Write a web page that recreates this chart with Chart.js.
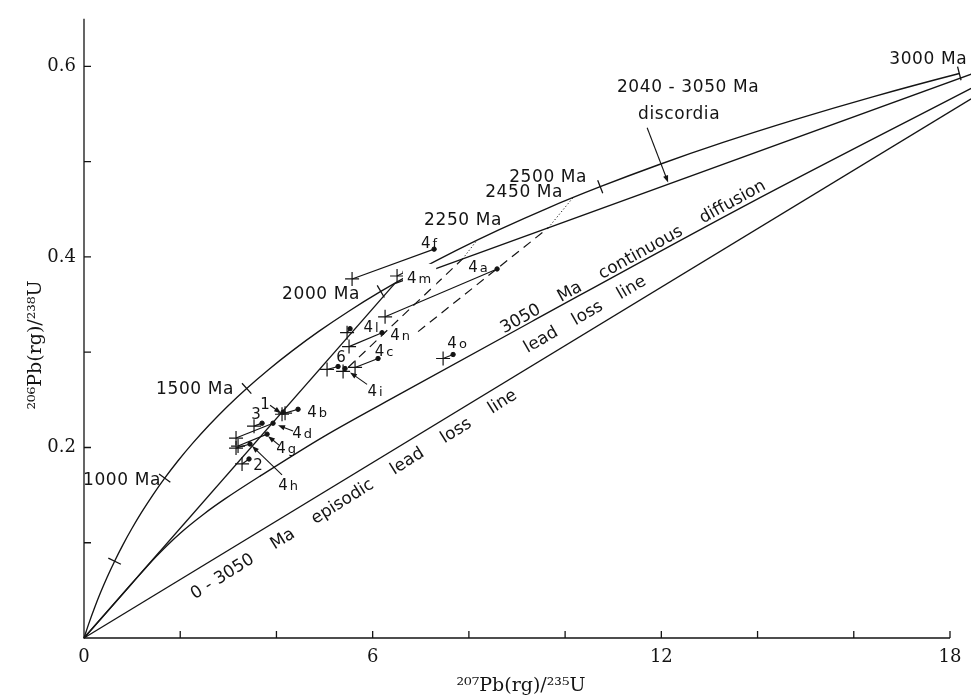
<!DOCTYPE html>
<html>
<head>
<meta charset="utf-8">
<script src="https://cdn.jsdelivr.net/npm/chart.js@4.4.1/dist/chart.umd.min.js"></script>
<style>
  html, body { margin: 0; padding: 0; background: #ffffff; }
  #wrap { width: 971px; height: 698px; }
</style>
</head>
<body>
<div id="wrap"><canvas id="c" width="971" height="698"></canvas></div>
<script>
// ---------------- DATA ----------------
// Concordia curve: age (Ma), 207Pb/235U, 206Pb/238U
const CONCORDIA_AGE_MA = [0,100,200,300,400,500,600,700,800,900,1000,1100,1200,1300,1400,1500,1600,1700,1800,1900,2000,2100,2200,2300,2400,2500,2600,2700,2800,2900,3000,3100];
const CONCORDIA_X = [0,0.1035,0.2177,0.3437,0.4828,0.6363,0.8056,0.9925,1.1987,1.4264,1.6774,1.9546,2.2604,2.5978,2.9701,3.3810,3.8345,4.3348,4.8870,5.4962,6.1686,6.9106,7.7293,8.6328,9.6297,10.7299,11.9439,13.2836,14.7619,16.3933,18.1934,20.1796];
const CONCORDIA_Y = [0,0.01563,0.03151,0.04764,0.06402,0.08065,0.09754,0.1147,0.1321,0.1498,0.1678,0.1861,0.2046,0.2234,0.2426,0.2620,0.2817,0.3017,0.3221,0.3428,0.3638,0.3851,0.4067,0.4287,0.4511,0.4737,0.4968,0.5202,0.5439,0.5681,0.5926,0.6175];
const AGE_TICKS_MA = [500,1000,1500,2000,2500,3000];

// 2040 - 3050 Ma discordia
const DISCORDIA_X = [6.457, 19.162];
const DISCORDIA_Y = [0.372, 0.605];
// chord from origin to the 2040 Ma point
const CHORD2040_X = [0, 6.457];
const CHORD2040_Y = [0, 0.372];
// 3050 Ma continuous diffusion lead loss line
const DIFFUSION_X = [0, 1.0, 1.5, 2.0, 2.5, 2.93, 3.66, 5.0, 6.6, 9.3, 13.78, 18.44];
const DIFFUSION_Y = [0, 0.0575, 0.0855, 0.110, 0.1305, 0.146, 0.170, 0.212, 0.257, 0.332, 0.455, 0.577];
// 0 - 3050 Ma episodic lead loss line
const EPISODIC_X = [0, 18.44];
const EPISODIC_Y = [0, 0.566];
// dashed trends, dotted continuation to the concordia (2250 Ma and 2450 Ma)
const DASH1_X = [5.489, 7.87];   const DASH1_Y = [0.284, 0.398];
const DOT1_X  = [7.87, 8.170];   const DOT1_Y  = [0.398, 0.4177];
const DASH2_X = [6.944, 9.65];   const DASH2_Y = [0.3216, 0.4306];
const DOT2_X  = [9.65, 10.166];  const DOT2_Y  = [0.4306, 0.4624];

// Samples: corrected point (cross) and measured point (dot)
const SAMPLE_NAMES   = ['4f','4m','4a','4l','4n','6','4i','4c','4o','1','4b','3','4d','4g','4h','2'];
const SAMPLE_CROSS_X = [5.572,6.507,6.258,5.468,5.509,5.052,5.385,5.634,7.464,4.116,4.179,3.534,3.160,3.202,3.160,3.285];
const SAMPLE_CROSS_Y = [0.3769,0.3800,0.3372,0.3205,0.3059,0.2819,0.2798,0.2840,0.2934,0.2349,0.2360,0.2224,0.2099,0.2015,0.1994,0.1827];
const SAMPLE_DOT_X   = [7.277,6.674,8.586,5.530,6.195,5.281,5.426,6.112,7.672,4.137,4.449,3.701,3.929,3.805,3.451,3.430];
const SAMPLE_DOT_Y   = [0.4082,0.3842,0.3874,0.3247,0.3205,0.2850,0.2829,0.2934,0.2976,0.2370,0.2401,0.2255,0.2255,0.2140,0.2036,0.1879];

// Axis ticks
const X_MIN = 0, X_MAX = 18, Y_MIN = 0, Y_MAX = 0.65;
const X_TICKS = [2,4,6,8,10,12,14,16,18];
const X_TICK_LABELS = [0,6,12,18];
const Y_TICKS = [0.1,0.2,0.3,0.4,0.5,0.6];
const Y_TICK_LABELS = [0.2,0.4,0.6];

// ---------------- ANNOTATIONS (text anchored in data units) ----------------
const SAMPLE_LABELS = [
  {t:'4f', x:7.173, y:0.4155}, {t:'4m', x:6.965, y:0.3780, bg:true}, {t:'4a', x:8.191, y:0.3905},
  {t:'4l', x:5.967, y:0.3268}, {t:'4n', x:6.570, y:0.3184}, {t:'4c', x:6.237, y:0.3017},
  {t:'4o', x:7.755, y:0.3101}, {t:'6', x:5.343, y:0.2955}, {t:'4i', x:6.050, y:0.2600},
  {t:'1', x:3.763, y:0.2464}, {t:'3', x:3.576, y:0.2360}, {t:'4b', x:4.844, y:0.2380},
  {t:'4d', x:4.532, y:0.2161}, {t:'4g', x:4.200, y:0.2005}, {t:'4h', x:4.241, y:0.1608},
  {t:'2', x:3.617, y:0.1817}
];
const AGE_LABELS = [
  {t:'1000 Ma', x:0.790, y:0.1650}, {t:'1500 Ma', x:2.308, y:0.2610}, {t:'2000 Ma', x:4.927, y:0.3602},
  {t:'2250 Ma', x:7.879, y:0.4385}, {t:'2450 Ma', x:9.148, y:0.4677}, {t:'2500 Ma', x:9.647, y:0.4834},
  {t:'3000 Ma', x:17.547, y:0.6076}, {t:'2040 - 3050 Ma', x:12.557, y:0.5774}, {t:'discordia', x:12.370, y:0.5492}
];
const ARROWS = [
  {from:[3.867,0.2443], to:[4.096,0.2360]},
  {from:[4.345,0.2172], to:[4.033,0.2234]},
  {from:[4.054,0.2025], to:[3.825,0.2119]},
  {from:[4.116,0.1712], to:[3.493,0.2015]},
  {from:[5.884,0.2662], to:[5.530,0.2788]},
  {from:[11.705,0.5356], to:[12.141,0.4782]}
];
const LINE_TEXTS = [
  {words:['3050','Ma','continuous','diffusion'], x:11.414, y:0.3999, angle:-28.9, len:300},
  {words:['lead','loss','line'], x:10.416, y:0.3393, angle:-30, len:138},
  {words:['0 - 3050','Ma','episodic','lead','loss','line'], x:5.613, y:0.1503, angle:-32, len:381}
];

// ---------------- BUILD ----------------
const INK = '#141414';
const pts = (xs, ys) => xs.map((v, i) => ({x: v, y: ys[i]}));
const lineSet = (xs, ys, extra) => Object.assign({
  data: pts(xs, ys), showLine: true, pointRadius: 0, borderColor: INK, borderWidth: 1.35,
  fill: false, clip: false, tension: 0
}, extra || {});

const datasets = [
  lineSet(CONCORDIA_X, CONCORDIA_Y, {cubicInterpolationMode: 'monotone'}),
  lineSet(DISCORDIA_X, DISCORDIA_Y),
  lineSet(CHORD2040_X, CHORD2040_Y),
  lineSet(DIFFUSION_X, DIFFUSION_Y, {cubicInterpolationMode: 'monotone'}),
  lineSet(EPISODIC_X, EPISODIC_Y),
  lineSet(DASH1_X, DASH1_Y, {borderDash: [9, 6], borderWidth: 1.2}),
  lineSet(DASH2_X, DASH2_Y, {borderDash: [9, 6], borderWidth: 1.2}),
  lineSet(DOT1_X, DOT1_Y, {borderDash: [1.2, 2.2], borderWidth: 1}),
  lineSet(DOT2_X, DOT2_Y, {borderDash: [1.2, 2.2], borderWidth: 1})
];
SAMPLE_NAMES.forEach((name, i) => {
  datasets.push({
    label: name,
    data: [{x: SAMPLE_CROSS_X[i], y: SAMPLE_CROSS_Y[i]}, {x: SAMPLE_DOT_X[i], y: SAMPLE_DOT_Y[i]}],
    showLine: true, borderColor: INK, borderWidth: 1.2, clip: false,
    pointStyle: ['cross', 'circle'], pointRadius: [7, 2.2], pointBorderWidth: [1.2, 1],
    pointBorderColor: INK, pointBackgroundColor: INK
  });
});

function drawSample(ctx, text, cx, cy, bg) {
  const m = text.match(/^(\d+)(.*)$/);
  const num = m ? m[1] : text, rest = m ? m[2] : '';
  const f1 = '15px "DejaVu Sans"', f2 = '13px "DejaVu Sans"';
  ctx.font = f1; const w1 = ctx.measureText(num).width;
  ctx.font = f2; const w2 = rest ? ctx.measureText(rest).width : 0;
  const gap = rest ? 2 : 0;
  const total = w1 + gap + w2;
  let x0 = cx - total / 2;
  const base = cy + 5.5;
  if (bg) { ctx.fillStyle = '#fff'; ctx.fillRect(x0 - 4, cy - 14, total + 9, 22); }
  ctx.fillStyle = INK; ctx.textBaseline = 'alphabetic'; ctx.textAlign = 'left';
  ctx.font = f1; ctx.fillText(num, x0, base);
  if (rest) { ctx.font = f2; ctx.fillText(rest, x0 + w1 + gap, base); }
}

function drawSpread(ctx, words, cx, cy, ang, total) {
  ctx.save();
  ctx.translate(cx, cy); ctx.rotate(ang * Math.PI / 180);
  ctx.font = '17px "DejaVu Sans"'; ctx.textBaseline = 'middle'; ctx.textAlign = 'left';
  ctx.fillStyle = INK;
  const ws = words.map(w => ctx.measureText(w).width);
  const sum = ws.reduce((a, b) => a + b, 0);
  const gap = (total - sum) / (words.length - 1);
  let xx = -total / 2;
  words.forEach((w, i) => { ctx.fillText(w, xx, 0); xx += ws[i] + gap; });
  ctx.restore();
}

const overlay = {
  id: 'overlay',
  afterDatasetsDraw(chart) {
    const ctx = chart.ctx, sx = chart.scales.x, sy = chart.scales.y;
    const P = (x, y) => [sx.getPixelForValue(x), sy.getPixelForValue(y)];
    ctx.save();
    ctx.strokeStyle = INK; ctx.fillStyle = INK; ctx.lineWidth = 1.3; ctx.setLineDash([]);
    // axes
    const [ox, oy] = P(0, 0);
    const ty = P(0, Y_MAX)[1];
    const rx = P(X_MAX, 0)[0];
    ctx.beginPath(); ctx.moveTo(ox, ty); ctx.lineTo(ox, oy); ctx.lineTo(rx, oy);
    X_TICKS.forEach(v => { const p = P(v, 0)[0]; ctx.moveTo(p, oy); ctx.lineTo(p, oy - 7); });
    Y_TICKS.forEach(v => { const p = P(0, v)[1]; ctx.moveTo(ox, p); ctx.lineTo(ox + 7, p); });
    ctx.stroke();
    // age ticks on the concordia
    ctx.beginPath();
    AGE_TICKS_MA.forEach(age => {
      const i = CONCORDIA_AGE_MA.indexOf(age);
      const a = P(CONCORDIA_X[i - 1], CONCORDIA_Y[i - 1]);
      const b = P(CONCORDIA_X[i + 1], CONCORDIA_Y[i + 1]);
      const c = P(CONCORDIA_X[i], CONCORDIA_Y[i]);
      let tx = b[0] - a[0], tyy = b[1] - a[1];
      const L = Math.hypot(tx, tyy); tx /= L; tyy /= L;
      const nx = -tyy, ny = tx, h = 7;
      ctx.moveTo(c[0] - nx * h, c[1] - ny * h); ctx.lineTo(c[0] + nx * h, c[1] + ny * h);
    });
    ctx.stroke();
    // arrows
    ctx.lineWidth = 1.1;
    ARROWS.forEach(ar => {
      const a = P(ar.from[0], ar.from[1]), b = P(ar.to[0], ar.to[1]);
      const dx = b[0] - a[0], dy = b[1] - a[1], L = Math.hypot(dx, dy);
      const ux = dx / L, uy = dy / L, hl = 7, hw = 2.6;
      ctx.beginPath(); ctx.moveTo(a[0], a[1]); ctx.lineTo(b[0] - ux * hl * 0.6, b[1] - uy * hl * 0.6); ctx.stroke();
      ctx.beginPath();
      ctx.moveTo(b[0], b[1]);
      ctx.lineTo(b[0] - ux * hl - uy * hw, b[1] - uy * hl + ux * hw);
      ctx.lineTo(b[0] - ux * hl + uy * hw, b[1] - uy * hl - ux * hw);
      ctx.closePath(); ctx.fill();
    });
    // sample labels
    SAMPLE_LABELS.forEach(l => { const p = P(l.x, l.y); drawSample(ctx, l.t, p[0], p[1], l.bg); });
    // age labels
    ctx.font = '17px "DejaVu Sans"'; ctx.textAlign = 'center'; ctx.textBaseline = 'middle';
    ctx.fillStyle = INK;
    try { ctx.letterSpacing = '0.6px'; } catch (e) {}
    AGE_LABELS.forEach(l => { const p = P(l.x, l.y); ctx.fillText(l.t, p[0], p[1]); });
    try { ctx.letterSpacing = '0px'; } catch (e) {}
    // texts along lines
    LINE_TEXTS.forEach(l => { const p = P(l.x, l.y); drawSpread(ctx, l.words, p[0], p[1], l.angle, l.len); });
    // axis titles
    ctx.fillStyle = INK; ctx.font = '19px "DejaVu Serif"'; ctx.textAlign = 'center'; ctx.textBaseline = 'middle';
    ctx.fillText('\u00B2\u2070\u2077Pb(rg)/\u00B2\u00B3\u2075U', (sx.left + sx.right) / 2 + 4, 686);
    ctx.save(); ctx.translate(36, 345); ctx.rotate(-Math.PI / 2);
    ctx.fillText('\u00B2\u2070\u2076Pb(rg)/\u00B2\u00B3\u2078U', 0, 0);
    ctx.restore();
    ctx.restore();
  }
};

new Chart(document.getElementById('c'), {
  type: 'scatter',
  data: { datasets },
  options: {
    responsive: false, animation: false, events: [],
    layout: { padding: { top: 15, right: 21, left: 0, bottom: 0 } },
    plugins: { legend: { display: false }, tooltip: { enabled: false }, title: { display: false } },
    scales: {
      x: {
        type: 'linear', position: 'bottom', min: X_MIN, max: X_MAX,
        afterBuildTicks: s => { s.ticks = [0].concat(X_TICKS).map(v => ({value: v})); },
        afterFit: s => { s.height = 60; },
        grid: { display: false, drawTicks: false }, border: { display: false },
        ticks: {
          autoSkip: false, maxRotation: 0, padding: 9, color: INK,
          font: { family: '"DejaVu Serif"', size: 18 },
          callback: v => X_TICK_LABELS.includes(v) ? String(v) : ''
        }
      },
      y: {
        type: 'linear', position: 'left', min: Y_MIN, max: Y_MAX,
        afterBuildTicks: s => { s.ticks = Y_TICKS.map(v => ({value: v})); },
        afterFit: s => { s.width = 84; },
        grid: { display: false, drawTicks: false }, border: { display: false },
        ticks: {
          autoSkip: false, padding: 8, color: INK,
          font: { family: '"DejaVu Serif"', size: 18 },
          callback: v => Y_TICK_LABELS.includes(v) ? v.toFixed(1) : ''
        }
      }
    }
  },
  plugins: [overlay]
});
</script>
</body>
</html>
